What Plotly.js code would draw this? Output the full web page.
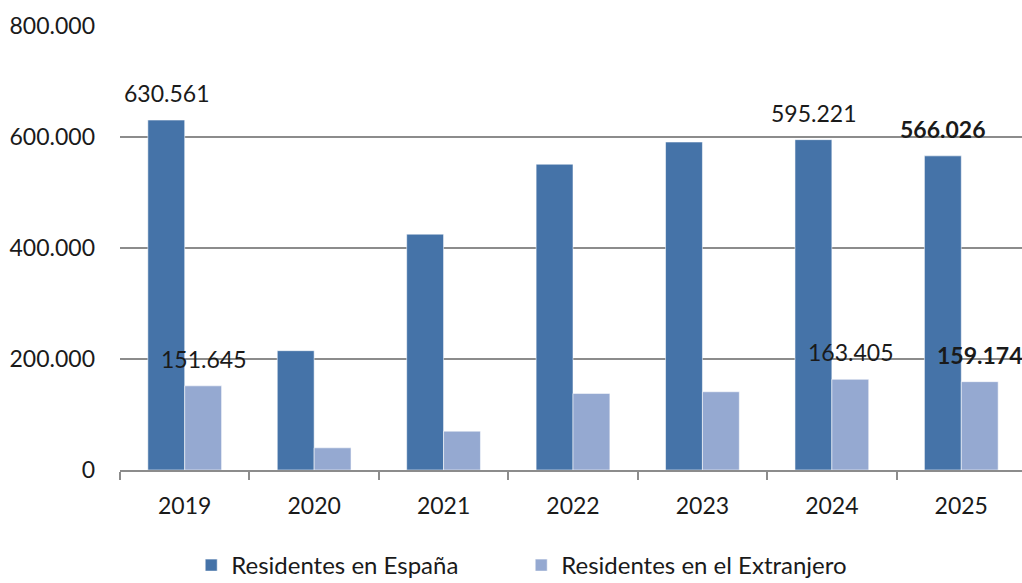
<!DOCTYPE html>
<html>
<head>
<meta charset="utf-8">
<script src="https://cdn.plot.ly/plotly-3.0.1.min.js"></script>
<style>
  html, body { margin: 0; padding: 0; overflow: hidden; background: #fff; }
  #chart { width: 1028px; height: 583px; }
</style>
</head>
<body>
<div id="chart"></div>
<script>
const years = ['2019', '2020', '2021', '2022', '2023', '2024', '2025'];
const residentesEspana = [630561, 215000, 425000, 551000, 591000, 595221, 566026];
const residentesExtranjero = [151645, 40000, 70000, 138000, 141000, 163405, 159174];
const labeledYears = ['2019', '2024', '2025'];
const boldYears = ['2025'];
const seriesNames = ['Residentes en España', 'Residentes en el Extranjero'];
const colorEspana = '#4573a8';
const colorExtranjero = '#95a9d1';

const FONT = 'Lato, "Open Sans", sans-serif';
const FS = 23;

function fmt(v) {
  return v.toString().replace(/\B(?=(\d{3})+(?!\d))/g, '.');
}

const traces = [
  {
    type: 'bar', name: seriesNames[0], x: years, y: residentesEspana,
    marker: { color: colorEspana, line: { color: 'rgba(255,255,255,0.55)', width: 1 } }
  },
  {
    type: 'bar', name: seriesNames[1], x: years, y: residentesExtranjero,
    marker: { color: colorExtranjero, line: { color: 'rgba(255,255,255,0.55)', width: 1 } }
  }
];

const annotations = [];
years.forEach((yr, i) => {
  if (!labeledYears.includes(yr)) return;
  const bold = boldYears.includes(yr);
  [[residentesEspana[i], -18.5], [residentesExtranjero[i], 18.5]].forEach(([v, dx]) => {
    annotations.push({
      x: i, y: v, xref: 'x', yref: 'y',
      text: bold ? '<b>' + fmt(v) + '</b>' : fmt(v),
      showarrow: false, xanchor: 'center', yanchor: 'middle',
      xshift: dx, yshift: 27,
      font: { family: FONT, size: FS, color: '#1a1a1a' }
    });
  });
});

const layout = {
  width: 1028, height: 583,
  margin: { l: 120, r: 2, t: 26, b: 113 },
  paper_bgcolor: '#ffffff', plot_bgcolor: '#ffffff',
  separators: ',.',
  barmode: 'group', bargap: 0.43, bargroupgap: 0,
  showlegend: true,
  font: { family: FONT, size: FS, color: '#1a1a1a' },
  xaxis: {
    type: 'category', range: [-0.5, 6.5], autorange: false,
    showgrid: false, zeroline: false,
    showline: true, linecolor: '#8c8c8c', linewidth: 2,
    ticks: 'outside', tickson: 'boundaries', ticklen: 8, tickwidth: 2, tickcolor: '#8c8c8c',
    ticklabelstandoff: 14,
    tickfont: { family: FONT, size: FS, color: '#1a1a1a' }
  },
  yaxis: {
    range: [0, 800000], autorange: false, tickvals: [0, 200000, 400000, 600000, 800000],
    tickformat: ',d',
    showgrid: true, gridcolor: '#8c8c8c', gridwidth: 2,
    zeroline: false, showline: false, ticks: '',
    ticklabelstandoff: 24,
    tickfont: { family: FONT, size: FS, color: '#1a1a1a' }
  },
  legend: {
    orientation: 'h', xref: 'container', yref: 'container',
    x: 0.186, xanchor: 'left', y: 0.03, yanchor: 'middle',
    entrywidth: 285, entrywidthmode: 'pixels',
    font: { family: FONT, size: 24, color: '#1a1a1a' },
    bgcolor: 'rgba(0,0,0,0)'
  },
  annotations: annotations
};

Plotly.newPlot('chart', traces, layout, { staticPlot: true, displayModeBar: false });
</script>
</body>
</html>
